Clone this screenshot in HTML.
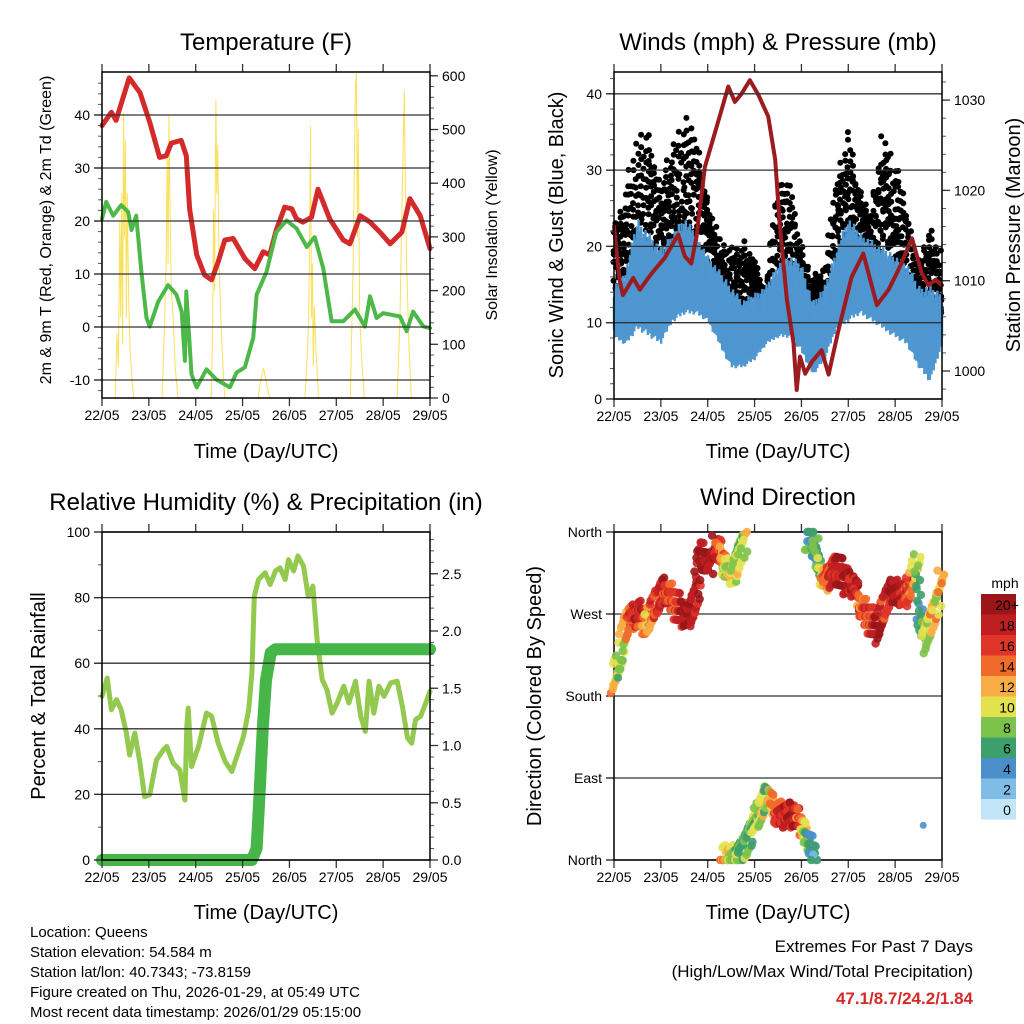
<!DOCTYPE html>
<html><head><meta charset="utf-8"><style>
body{margin:0;background:#fff;}
svg{display:block;font-family:"Liberation Sans",sans-serif;}
</style></head><body>
<svg id="s" width="1024" height="1024" viewBox="0 0 1024 1024">
<g id="g1"></g>
<g id="g2"></g>
<g id="g3"></g>
<g id="g4"></g>
<text x="266" y="50" font-size="24" text-anchor="middle">Temperature (F)</text>
<text x="778" y="50" font-size="24" text-anchor="middle">Winds (mph) &amp; Pressure (mb)</text>
<text x="266" y="510" font-size="24" text-anchor="middle">Relative Humidity (%) &amp; Precipitation (in)</text>
<text x="778" y="505" font-size="24" text-anchor="middle">Wind Direction</text>
<text transform="translate(51,230) rotate(-90)" font-size="16" text-anchor="middle">2m &amp; 9m T (Red, Orange) &amp; 2m Td (Green)</text>
<text transform="translate(497,235) rotate(-90)" font-size="16" text-anchor="middle">Solar Insolation (Yellow)</text>
<text transform="translate(563,235) rotate(-90)" font-size="20" text-anchor="middle">Sonic Wind &amp; Gust (Blue, Black)</text>
<text transform="translate(1020,235) rotate(-90)" font-size="20" text-anchor="middle">Station Pressure (Maroon)</text>
<text transform="translate(45,696) rotate(-90)" font-size="20" text-anchor="middle">Percent &amp; Total Rainfall</text>
<text transform="translate(541,696) rotate(-90)" font-size="20" text-anchor="middle">Direction (Colored By Speed)</text>
<text x="266" y="458" font-size="20" text-anchor="middle">Time (Day/UTC)</text>
<text x="778" y="458" font-size="20" text-anchor="middle">Time (Day/UTC)</text>
<text x="266" y="919" font-size="20" text-anchor="middle">Time (Day/UTC)</text>
<text x="778" y="919" font-size="20" text-anchor="middle">Time (Day/UTC)</text>
<g font-size="15">
<text x="30" y="937">Location: Queens</text>
<text x="30" y="957">Station elevation: 54.584 m</text>
<text x="30" y="977">Station lat/lon: 40.7343; -73.8159</text>
<text x="30" y="997">Figure created on Thu, 2026-01-29, at 05:49 UTC</text>
<text x="30" y="1017">Most recent data timestamp: 2026/01/29 05:15:00</text>
</g>
<g font-size="17" text-anchor="end">
<text x="973" y="952">Extremes For Past 7 Days</text>
<text x="973" y="977">(High/Low/Max Wind/Total Precipitation)</text>
<text x="973" y="1004" fill="#d42a2a" font-weight="bold">47.1/8.7/24.2/1.84</text>
</g>
</svg>
<script>
// ---- data ----
const dayLabels=["22/05","23/05","24/05","25/05","26/05","27/05","28/05","29/05"];
const tempT=[0,.2,.3,.58,.81,1.02,1.23,1.37,1.48,1.69,1.8,1.87,2.02,2.19,2.34,2.48,2.62,2.8,3.05,3.26,3.44,3.58,3.72,3.9,4.05,4.15,4.29,4.47,4.61,4.86,5.15,5.29,5.51,5.72,5.93,6.15,6.4,6.57,6.79,7];
const tempV=[38,40.5,39,47,44.2,38.6,32,32.3,34.7,35.2,32.3,22.3,13.6,9.8,8.9,12.3,16.4,16.7,12.9,11,14.2,13.6,18.3,22.6,22.3,20.4,19.8,20.7,26,20.4,16.4,15.7,21,19.8,17.9,15.7,17.9,24.2,21,14.8];
const dewT=[0,.09,.24,.41,.56,.63,.73,.84,.95,1.02,1.2,1.41,1.59,1.7,1.77,1.8,1.91,2.02,2.23,2.44,2.73,2.87,3.05,3.23,3.3,3.51,3.72,3.94,4.15,4.37,4.54,4.72,4.9,5.15,5.4,5.61,5.72,5.86,6,6.36,6.5,6.64,6.86,7];
const dewV=[20.4,23.6,21,23,21.7,18.3,21,10.4,1.7,0.1,4.8,7.9,6.1,2.9,-6.4,6.7,-8.9,-11.4,-8,-9.9,-11.4,-8.6,-7.6,-2,6.1,10.4,17.9,20.1,18.6,15.1,17,11.1,1.1,1.1,3.3,0.1,5.8,1.7,2.6,2,-0.8,2.9,0.1,-0.2];
const solT=[0,.28,.32,.35,.38,.40,.42,.44,.46,.48,.5,.52,.54,.57,.6,.64,.68,1.28,1.33,1.37,1.39,1.41,1.43,1.45,1.48,1.52,1.56,1.62,2.33,2.36,2.38,2.40,2.43,2.45,2.47,2.50,2.54,2.58,2.62,3.33,3.38,3.42,3.45,3.48,3.53,3.58,4.33,4.38,4.41,4.43,4.45,4.47,4.49,4.51,4.53,4.56,4.62,5.3,5.36,5.39,5.41,5.43,5.45,5.47,5.5,5.55,5.6,6.3,6.36,6.40,6.43,6.45,6.47,6.50,6.55,6.6,7];
const solV=[0,0,120,60,330,150,380,100,530,300,480,150,380,180,90,30,0,0,120,260,460,250,527,380,200,150,60,0,0,120,350,200,555,380,470,250,140,60,0,0,30,45,55,40,20,0,0,80,140,300,505,150,250,60,170,100,0,0,250,480,580,605,300,500,150,60,0,0,150,350,480,573,420,250,100,0,0];
const windT=[0,.25,.5,.75,1,1.25,1.5,1.75,2,2.25,2.5,2.75,3,3.25,3.5,3.75,4,4.25,4.5,4.75,5,5.25,5.5,5.75,6,6.25,6.5,6.75,7];
const windHi=[15,17,24,22,20,22,24,22,19,17,15,13,14,15,18,19,18,13,15,20,24,22,21,20,19,18,15,15,14];
const windLo=[8,7,9,8,7,10,11,11,10,7,4,4,5,7,8,8,6,3,5,9,10,11,10,9,8,7,4,2,7];
const gustHi=[24,30,36,37,30,36,38,37,28,22,20,21,20,14,30,29,21,17,17,31,36,28,25,36,32,26,18,24,20];
const gustLo=[12,13,14,16,16,17,17,18,16,13,11,9,12,10,16,15,10,8,10,17,20,18,17,20,17,14,11,12,10];
const presT=[0,.12,.19,.41,.55,.8,1.08,1.37,1.51,1.65,1.76,1.94,2.15,2.44,2.58,2.72,2.9,3.08,3.29,3.44,3.54,3.69,3.83,3.9,3.97,4.08,4.22,4.43,4.58,4.79,5.07,5.32,5.61,5.86,6.07,6.36,6.57,6.71,6.86,7];
const presV=[1016,1010.1,1008.4,1010.3,1009,1010.8,1012.5,1015.1,1012.7,1011.9,1014.9,1022.6,1026.3,1031.5,1029.8,1030.7,1032.2,1030.6,1028.2,1023.4,1016,1007.9,1003.1,997.9,1001.6,999.7,1001,1002.3,999.6,1004.5,1010.4,1013,1007.3,1009,1011.2,1014.7,1010.8,1009.5,1010.1,1009.5];
const rhT=[0,.11,.2,.31,.41,.52,.59,.7,.81,.91,1.02,1.16,1.31,1.38,1.52,1.66,1.77,1.81,1.84,1.91,2.06,2.23,2.34,2.48,2.63,2.77,2.88,3.02,3.13,3.2,3.25,3.34,3.48,3.59,3.7,3.8,3.91,3.98,4.09,4.18,4.3,4.4,4.5,4.59,4.7,4.8,4.91,5.02,5.16,5.27,5.41,5.52,5.62,5.7,5.8,5.91,6.02,6.16,6.3,6.41,6.52,6.61,6.69,6.8,6.91,7];
const rhV=[49.9,55.5,45.8,48.9,45.8,38.7,32,38.7,29.5,19.3,19.9,30.5,33.6,34.6,29.5,27.5,18.3,40.7,46.3,28.5,34.6,44.8,43.8,35.6,30,27,31.6,37.7,45.8,57,80.4,85.5,87.6,84,88.1,89.1,85.5,91.6,88.1,92.7,89.6,80.4,83.5,67.2,55,51.9,44.8,47.9,53,47.9,54.5,43.8,39.2,54.5,44.8,53,49.9,54,54.5,46.8,37.2,35.6,42.8,43.8,47.9,51.4];
const prT=[0,3.2,3.3,3.36,3.43,3.5,3.6,3.7,3.85,7];
const prV=[0,0,0.1,0.55,1.14,1.57,1.81,1.84,1.84,1.84];
const dir1T=[0,.12,.19,.3,.51,.73,.87,1.05,1.22,1.44,1.62,1.76,1.83,2.01,2.19,2.37,2.54,2.65,2.79];
const dir1V=[196,214,243,264,271,258,277,297,289,271,266,291,339,324,346,320,313,339,353];
const dir1S=[12,8,10,14,18,12,16,18,14,18,20,18,20,20,18,10,10,8,10];
const dir2T=[2.33,2.65,2.83,2.93,3.15,3.29,3.43,3.65,3.86,4.0,4.14,4.29];
const dir2V=[3,3,23,38,52,74,52,49,49,38,20,6];
const dir2S=[12,8,6,8,10,8,14,18,18,14,6,4];
const dir3T=[4.14,4.29,4.36,4.5,4.72,4.93,5.14,5.28,5.5,5.64,5.79,5.93,6.14,6.35,6.46,6.53,6.6,6.71,6.82,6.93,7.0];
const dir3V=[353,346,320,306,324,306,302,277,262,251,280,297,291,298,327,266,240,258,277,295,308];
const dir3S=[6,6,8,14,18,20,18,14,16,20,16,20,18,14,8,4,8,10,12,10,12];
const speedBins=["0","2","4","6","8","10","12","14","16","18","20+"];
const speedColors=["#c2e6f8","#7fbde6","#4a8fca","#3d9f6c","#7dc24b","#e4e14f","#f8ac43","#f06a2c","#df3428","#c01f22","#9b1519"];

// ---- helpers ----
const NS="http://www.w3.org/2000/svg";
function mk(parent,tag,attrs){const e=document.createElementNS(NS,tag);for(const k in attrs)e.setAttribute(k,attrs[k]);parent.appendChild(e);return e;}
function interp(T,V,t){if(t<=T[0])return V[0];for(let i=1;i<T.length;i++){if(t<=T[i]){const f=(t-T[i-1])/(T[i]-T[i-1]);return V[i-1]+f*(V[i]-V[i-1]);}}return V[V.length-1];}
function frac(x){return x-Math.floor(x);}
const W=328;
function xs(L){return d=>L+d*W/7;}

function frame(g,L,T,B,yticksL,yfn,minorL,yticksR,yfnR,minorR,labelFmtL,labelFmtR,grid){
  const R=L+W;
  const X=xs(L);
  if(grid){yticksL.forEach(v=>{const l=mk(g,'line',{x1:L-8,x2:R,y1:yfn(v),y2:yfn(v),stroke:'#333','stroke-width':1.3});
    
    });}
  (minorL||[]).forEach(v=>{mk(g,'line',{x1:L-4,x2:L,y1:yfn(v),y2:yfn(v),stroke:'#555','stroke-width':1});});
  yticksL.forEach((v,i)=>{mk(g,'line',{x1:L-8,x2:L,y1:yfn(v),y2:yfn(v),stroke:'#333','stroke-width':1.3});
    const t=mk(g,'text',{x:L-12,y:yfn(v)+5,'font-size':14,'text-anchor':'end'});t.textContent=labelFmtL(v,i);
    
    });
  if(yticksR){(minorR||[]).forEach(v=>{mk(g,'line',{x1:R,x2:R+4,y1:yfnR(v),y2:yfnR(v),stroke:'#555','stroke-width':1});});
    yticksR.forEach(v=>{mk(g,'line',{x1:R,x2:R+8,y1:yfnR(v),y2:yfnR(v),stroke:'#333','stroke-width':1.3});
    const t=mk(g,'text',{x:R+12,y:yfnR(v)+5,'font-size':14});t.textContent=labelFmtR(v);
    
    });}
  for(let d=0;d<=7;d++){const x=X(d);
    mk(g,'line',{x1:x,x2:x,y1:T-8,y2:T,stroke:'#333','stroke-width':1.3});
    mk(g,'line',{x1:x,x2:x,y1:B,y2:B+8,stroke:'#333','stroke-width':1.3});
    const t=mk(g,'text',{x:x,y:B+22,'font-size':14,'text-anchor':'middle'});t.textContent=dayLabels[d];
    
    }
  const r=mk(g,'rect',{x:L,y:T,width:W,height:B-T,fill:'none',stroke:'#000','stroke-width':1.5});
  
  
}
function poly(g,T,V,X,Y,attrs,name){const pts=T.map((t,i)=>X(t).toFixed(1)+','+Y(V[i]).toFixed(1)).join(' ');
  const p=mk(g,'polyline',Object.assign({points:pts,fill:'none','stroke-linejoin':'round','stroke-linecap':'round'},attrs));
  
  return p;}
function rng(a,b,s){const r=[];for(let v=a;v<=b+1e-9;v+=s)r.push(+v.toFixed(4));return r;}

// ---- panel 1 ----
(function(){const g=document.getElementById('g1');const L=102,T=72,B=398;const X=xs(L);
 const Y=v=>327-v*5.3, YS=v=>398-v*0.537;
 poly(g,solT,solV,X,YS,{stroke:'#fbe05a','stroke-width':1},'solar-line');
 poly(g,tempT,tempV,X,Y,{stroke:'#d42a2a','stroke-width':5},'temperature-line');
 poly(g,dewT,dewV,X,Y,{stroke:'#4cb848','stroke-width':4,'stroke-dasharray':'3 1'},'dewpoint-line');
 frame(g,L,T,B,[-10,0,10,20,30,40],Y,rng(-12,46,2),[0,100,200,300,400,500,600],YS,rng(0,600,20),v=>v,v=>v,true);
})();
// ---- panel 2 ----
(function(){const g=document.getElementById('g2');const L=614,T=72,B=399;const X=xs(L);
 const Y=v=>399-v*7.63, YP=m=>371-(m-1000)*9.03;
 const gb=mk(g,'g',{fill:'#000'});
 let i=0;
 for(let t=0;t<=7;t+=0.014){i++;const lo=interp(windT,gustLo,t),hi=interp(windT,gustHi,t);
   for(let j=0;j<3;j++){const f=frac(i*0.618+j*0.373);const v=lo+(hi-lo)*f*(0.75+0.25*frac(i*0.211+j*0.5));
     mk(gb,'circle',{cx:(X(t)+(frac(i*0.37+j*0.5)-0.5)*4).toFixed(1),cy:Y(v).toFixed(1),r:3});}}
 const bl=mk(g,'g',{stroke:'#4f97d1','stroke-width':2.4});
 i=0;
 for(let t=0;t<=7;t+=0.007){i++;const lo=interp(windT,windLo,t),hi=interp(windT,windHi,t);
   const h=lo+(hi-lo)*(0.4+0.6*frac(i*0.618)), l=lo+(hi-lo)*0.35*frac(i*0.414);
   mk(bl,'line',{x1:X(t).toFixed(1),x2:X(t).toFixed(1),y1:Y(l).toFixed(1),y2:Y(h).toFixed(1)});}
 poly(g,presT,presV,X,YP,{stroke:'#9b1b1e','stroke-width':4},'pressure-line');
 frame(g,L,T,B,[0,10,20,30,40],Y,rng(0,42,2),[1000,1010,1020,1030],YP,rng(998,1032,2),v=>v,v=>v,true);
})();
// ---- panel 3 ----
(function(){const g=document.getElementById('g3');const L=102,T=532,B=860;const X=xs(L);
 const Y=v=>860-v*3.28, YR=v=>860-v*114.5;
 poly(g,rhT,rhV,X,Y,{stroke:'#93c94e','stroke-width':5},'humidity-line');
 poly(g,prT,prV,X,YR,{stroke:'#46b648','stroke-width':12},'precipitation-line');
 frame(g,L,T,B,[0,20,40,60,80,100],Y,rng(0,100,10),[0,0.5,1,1.5,2,2.5],YR,rng(0,2.8,0.1),v=>v,v=>v.toFixed(1),true);
})();
// ---- panel 4 ----
(function(){const g=document.getElementById('g4');const L=614,T=532,B=860;const X=xs(L);
 const Y=d=>860-d*W/360;
 const names=["North","East","South","West","North"];
 frame(g,L,T,B,[0,90,180,270,360],Y,[],null,null,null,(v,i)=>names[i],null,true);
 const gd=mk(g,'g',{'fill-opacity':0.9});
 function track(TT,VV,SS){let i=0;for(let t=TT[0];t<=TT[TT.length-1]+1e-9;t+=0.02){i++;const d=interp(TT,VV,t),s=interp(TT,SS,t);
   for(let j=0;j<3;j++){const dy=(frac(i*0.618+j*0.33)-0.5)*26, dx=(frac(i*0.41+j*0.71)-0.5)*8;
     let ss=s+(frac(i*0.29+j*0.57)-0.5)*5;ss=Math.max(0,Math.min(20,ss));const bi=Math.min(10,Math.round(ss/2));
     let y=Y(d)+dy;y=Math.max(T,Math.min(B,y));
     mk(gd,'circle',{cx:(X(t)+dx).toFixed(1),cy:y.toFixed(1),r:4.2,fill:speedColors[bi]});}}}
 track(dir1T,dir1V,dir1S);track(dir2T,dir2V,dir2S);track(dir3T,dir3V,dir3S);
 mk(gd,'circle',{cx:X(6.6),cy:Y(38),r:3.5,fill:speedColors[2]});
 const cb=mk(g,'g',{});
 const lt=mk(cb,'text',{x:1005,y:588,'font-size':14,'text-anchor':'middle'});lt.textContent='mph';
 for(let k=0;k<11;k++){const y=594+(10-k)*20.5;
   mk(cb,'rect',{x:981,y:y,width:35,height:20.5,fill:speedColors[k]});
   const t=mk(cb,'text',{x:1007,y:y+16,'font-size':14,'text-anchor':'middle'});t.textContent=speedBins[k];
   
   }
})();
</script>
</body></html>
